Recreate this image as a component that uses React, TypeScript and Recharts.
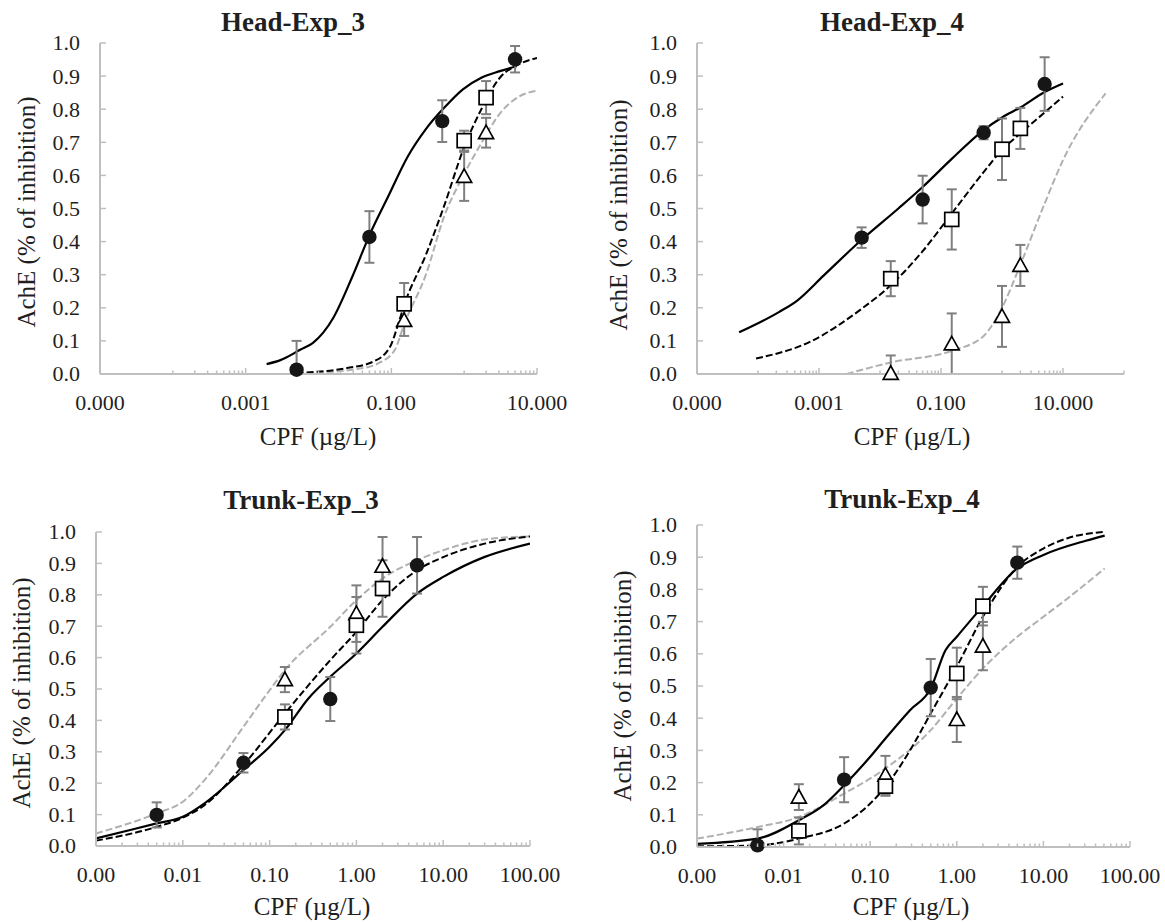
import React from 'react';
import { ComposedChart, Line, Scatter, XAxis, YAxis, ErrorBar } from 'recharts';

const FONT = '"Liberation Serif", "Times New Roman", serif';
const AXIS = '#BFBFBF';
const ERR = '#7F7F7F';
const GRAY = '#B0B0B0';
const INK = '#1F1F1F';

// ---------- Head-Exp_3 ----------
const h3CircleX = [0.005, 0.05, 0.5, 5];
const h3CircleY = [0.013, 0.414, 0.764, 0.951];
const h3CircleErr = [0.087, 0.078, 0.063, 0.04];
const h3OpenX = [0.15, 1, 2];
const h3SquareY = [0.212, 0.705, 0.835];
const h3SquareErr = [0.063, 0.03, 0.05];
const h3TriY = [0.162, 0.597, 0.729];
const h3TriErr = [0.047, 0.074, 0.045];
const h3SolidX = [0.00194, 0.003, 0.0056, 0.0084, 0.016, 0.0286, 0.0514, 0.0922, 0.166, 0.298, 0.535, 0.96, 1.72, 3.09, 5.24];
const h3SolidY = [0.03, 0.042, 0.073, 0.094, 0.17, 0.29, 0.425, 0.54, 0.655, 0.74, 0.805, 0.86, 0.895, 0.915, 0.93];
const h3DashX = [0.005, 0.0247, 0.056, 0.096, 0.124, 0.151, 0.298, 0.535, 0.96, 1.72, 3.09, 5.56, 10];
const h3DashY = [0.003, 0.018, 0.037, 0.082, 0.15, 0.21, 0.36, 0.51, 0.675, 0.8, 0.895, 0.935, 0.955];
const h3GrayX = [0.0069, 0.034, 0.07, 0.113, 0.15, 0.298, 0.535, 0.96, 1.72, 3.09, 5.56, 10];
const h3GrayY = [0.003, 0.015, 0.035, 0.075, 0.15, 0.3, 0.478, 0.597, 0.697, 0.787, 0.837, 0.856];

// ---------- Head-Exp_4 ----------
const h4CircleX = [0.005, 0.05, 0.5, 5];
const h4CircleY = [0.412, 0.527, 0.729, 0.876];
const h4CircleErr = [0.031, 0.072, 0.02, 0.081];
const h4OpenX = [0.015, 0.15, 1, 2];
const h4SquareY = [0.288, 0.467, 0.679, 0.742];
const h4SquareErr = [0.053, 0.091, 0.093, 0.062];
const h4TriY = [0.002, 0.091, 0.174, 0.328];
const h4TriErr = [0.054, 0.092, 0.092, 0.062];
const h4SolidX = [4.9e-5, 2.2e-4, 4.4e-4, 1.2e-3, 0.0049, 0.02, 0.05, 0.15, 0.5, 1, 2, 5, 10];
const h4SolidY = [0.126, 0.187, 0.222, 0.298, 0.404, 0.5, 0.565, 0.65, 0.737, 0.775, 0.805, 0.852, 0.878];
const h4DashX = [9.3e-5, 6.7e-4, 0.005, 0.015, 0.05, 0.15, 0.5, 1, 2, 5, 10];
const h4DashY = [0.047, 0.095, 0.197, 0.268, 0.371, 0.485, 0.61, 0.677, 0.727, 0.79, 0.838];
const h4GrayX = [0.00284, 0.015, 0.15, 0.5, 1, 2, 5, 10, 50];
const h4GrayY = [0.0, 0.035, 0.07, 0.115, 0.2, 0.33, 0.515, 0.646, 0.848];

// ---------- Trunk-Exp_3 ----------
const t3CircleX = [0.005, 0.05, 0.5, 5];
const t3CircleY = [0.099, 0.265, 0.468, 0.894];
const t3CircleErr = [0.04, 0.031, 0.07, 0.09];
const t3OpenX = [0.15, 1, 2];
const t3SquareY = [0.411, 0.703, 0.82];
const t3SquareErr = [0.04, 0.09, 0.09];
const t3TriY = [0.53, 0.74, 0.891];
const t3TriErr = [0.04, 0.09, 0.093];
const t3SolidX = [0.001, 0.00248, 0.005, 0.01, 0.0178, 0.05, 0.1, 0.15, 0.28, 0.5, 1, 2, 5, 10, 29.6, 100];
const t3SolidY = [0.024, 0.051, 0.072, 0.093, 0.136, 0.242, 0.316, 0.369, 0.47, 0.539, 0.613, 0.698, 0.804, 0.857, 0.92, 0.963];
const t3DashX = [0.001, 0.005, 0.01, 0.0178, 0.05, 0.15, 0.5, 1, 2, 5, 10, 30, 100];
const t3DashY = [0.017, 0.061, 0.09, 0.13, 0.258, 0.422, 0.592, 0.682, 0.783, 0.878, 0.92, 0.963, 0.986];
const t3GrayX = [0.001, 0.005, 0.01, 0.0178, 0.05, 0.1, 0.15, 0.5, 1, 2, 5, 10, 30, 100];
const t3GrayY = [0.04, 0.104, 0.141, 0.21, 0.38, 0.496, 0.56, 0.698, 0.783, 0.852, 0.91, 0.942, 0.976, 0.986];

// ---------- Trunk-Exp_4 ----------
const t4CircleX = [0.005, 0.05, 0.5, 5];
const t4CircleY = [0.005, 0.209, 0.495, 0.883];
const t4CircleErr = [0.05, 0.07, 0.089, 0.05];
const t4OpenX = [0.015, 0.15, 1, 2];
const t4SquareY = [0.05, 0.189, 0.539, 0.748];
const t4SquareErr = [0.042, 0.03, 0.08, 0.06];
const t4TriY = [0.155, 0.223, 0.396, 0.624];
const t4TriErr = [0.04, 0.06, 0.07, 0.075];
const t4SolidX = [0.001, 0.005, 0.015, 0.029, 0.05, 0.1, 0.15, 0.288, 0.5, 0.74, 1, 2, 5, 10, 30.8, 51];
const t4SolidY = [0.01, 0.026, 0.083, 0.13, 0.192, 0.28, 0.337, 0.425, 0.492, 0.611, 0.653, 0.748, 0.865, 0.907, 0.951, 0.967];
const t4DashX = [0.001, 0.005, 0.015, 0.05, 0.1, 0.15, 0.288, 0.5, 1, 2, 5, 10, 19, 51];
const t4DashY = [0.002, 0.005, 0.026, 0.073, 0.135, 0.187, 0.3, 0.415, 0.56, 0.715, 0.87, 0.927, 0.959, 0.979];
const t4GrayX = [0.001, 0.005, 0.015, 0.05, 0.15, 0.5, 1, 2, 5, 10, 19, 51];
const t4GrayY = [0.026, 0.062, 0.093, 0.166, 0.244, 0.363, 0.461, 0.554, 0.653, 0.715, 0.772, 0.865];

// ---------- axis ticks ----------
const yTicks = [0, 0.1, 0.2, 0.3, 0.4, 0.5, 0.6, 0.7, 0.8, 0.9, 1.0];
const headLabelTicks = [0.00001, 0.001, 0.1, 10];
const headMinorTicks = [
  0.0001, 0.0002, 0.0003, 0.0004, 0.0005, 0.0006, 0.0007, 0.0008, 0.0009,
  0.01, 0.02, 0.03, 0.04, 0.05, 0.06, 0.07, 0.08, 0.09,
  1, 2, 3, 4, 5, 6, 7, 8, 9,
];
const trunkLabelTicks = [0.001, 0.01, 0.1, 1, 10, 100];
const trunkMinorTicks = [
  0.002, 0.003, 0.004, 0.005, 0.006, 0.007, 0.008, 0.009,
  0.02, 0.03, 0.04, 0.05, 0.06, 0.07, 0.08, 0.09,
  0.2, 0.3, 0.4, 0.5, 0.6, 0.7, 0.8, 0.9,
  2, 3, 4, 5, 6, 7, 8, 9,
  20, 30, 40, 50, 60, 70, 80, 90,
];

const curve = (xs: number[], ys: number[]) => xs.map((x, i) => ({ x, y: ys[i] }));
// error bars are cut at the x axis, like the original plot
const marks = (xs: number[], ys: number[], errs: number[]) =>
  xs.map((x, i) => ({ x, y: ys[i], err: [Math.min(errs[i], ys[i]), errs[i]] }));

const Dot = (p: any) => <circle cx={p.cx} cy={p.cy} r={7.2} fill="#161616" />;
const Square = (p: any) => (
  <rect x={p.cx - 7} y={p.cy - 7} width={14} height={14} fill="#fff" stroke="#000" strokeWidth={1.7} />
);
const Triangle = (p: any) => (
  <polygon
    points={`${p.cx},${p.cy - 7.5} ${p.cx - 7.5},${p.cy + 6} ${p.cx + 7.5},${p.cy + 6}`}
    fill="#fff"
    stroke="#000"
    strokeWidth={1.7}
    strokeLinejoin="miter"
  />
);

const isOneOf = (v: number, list: number[]) => list.some((m) => Math.abs(m - v) <= m * 1e-6);

const makeXTick = (labels: number[], decimals: number) => (props: any) => {
  const { x, y, payload } = props;
  const v = payload.value as number;
  const labelled = isOneOf(v, labels);
  return (
    <g>
      <line x1={x} x2={x} y1={y} y2={y - (labelled ? 6 : 3.5)} stroke={AXIS} strokeWidth={1.5} />
      {labelled && (
        <text x={x} y={y + 36} textAnchor="middle" fontFamily={FONT} fontSize={22} fill={INK}>
          {v.toFixed(decimals)}
        </text>
      )}
    </g>
  );
};

const YTick = (props: any) => {
  const { x, y, payload } = props;
  return (
    <g>
      <line x1={x} x2={x + 6} y1={y} y2={y} stroke={AXIS} strokeWidth={1.5} />
      <text x={x - 20} y={y} dy="0.34em" textAnchor="end" fontFamily={FONT} fontSize={22} fill={INK}>
        {(payload.value as number).toFixed(1)}
      </text>
    </g>
  );
};

interface PanelProps {
  left: number;
  top: number;
  width: number;
  height: number;
  yWidth: number;
  margin: { top: number; right: number; bottom: number; left: number };
  domain: [number, number];
  labelTicks: number[];
  minorTicks: number[];
  decimals: number;
  solid: { x: number; y: number }[];
  dashed: { x: number; y: number }[];
  gray: { x: number; y: number }[];
  circles: any[];
  squares: any[];
  triangles: any[];
}

function Panel(p: PanelProps) {
  const ticks = [...p.labelTicks, ...p.minorTicks].sort((a, b) => a - b);
  return (
    <div style={{ position: 'absolute', left: p.left, top: p.top }}>
      <ComposedChart width={p.width} height={p.height} margin={p.margin}>
        <XAxis
          dataKey="x"
          type="number"
          scale="log"
          domain={p.domain}
          allowDataOverflow
          ticks={ticks}
          interval={0}
          height={60}
          tickSize={0}
          tickMargin={0}
          tickLine={false}
          axisLine={{ stroke: AXIS, strokeWidth: 2 }}
          tick={makeXTick(p.labelTicks, p.decimals)}
        />
        <YAxis
          dataKey="y"
          type="number"
          domain={[0, 1]}
          ticks={yTicks}
          interval={0}
          width={p.yWidth}
          tickSize={0}
          tickMargin={0}
          tickLine={false}
          axisLine={{ stroke: AXIS, strokeWidth: 2 }}
          tick={YTick}
        />
        <Line data={p.gray} dataKey="y" type="monotone" stroke={GRAY} strokeWidth={2} strokeDasharray="7 3" dot={false} isAnimationActive={false} />
        <Line data={p.dashed} dataKey="y" type="monotone" stroke="#000" strokeWidth={2} strokeDasharray="7 3" dot={false} isAnimationActive={false} />
        <Line data={p.solid} dataKey="y" type="monotone" stroke="#000" strokeWidth={2.2} dot={false} isAnimationActive={false} />
        <Scatter data={p.triangles} dataKey="y" shape={Triangle} isAnimationActive={false}>
          <ErrorBar dataKey="err" direction="y" stroke={ERR} strokeWidth={2} width={5} />
        </Scatter>
        <Scatter data={p.squares} dataKey="y" shape={Square} isAnimationActive={false}>
          <ErrorBar dataKey="err" direction="y" stroke={ERR} strokeWidth={2} width={5} />
        </Scatter>
        <Scatter data={p.circles} dataKey="y" shape={Dot} isAnimationActive={false}>
          <ErrorBar dataKey="err" direction="y" stroke={ERR} strokeWidth={2} width={5} />
        </Scatter>
      </ComposedChart>
    </div>
  );
}

const titleStyle = { fontFamily: FONT, fontSize: 27, fontWeight: 700, fill: INK } as const;
const axisTitleStyle = { fontFamily: FONT, fontSize: 25, fill: INK } as const;

export default function App() {
  return (
    <div style={{ position: 'absolute', left: 0, top: 0, width: 1165, height: 922, background: '#fff' }}>
      <Panel
        left={0} top={0} width={580} height={460} yWidth={100}
        margin={{ top: 43, right: 43, bottom: 26, left: 0 }}
        domain={[0.00001, 10]} labelTicks={headLabelTicks} minorTicks={headMinorTicks} decimals={3}
        solid={curve(h3SolidX, h3SolidY)} dashed={curve(h3DashX, h3DashY)} gray={curve(h3GrayX, h3GrayY)}
        circles={marks(h3CircleX, h3CircleY, h3CircleErr)}
        squares={marks(h3OpenX, h3SquareY, h3SquareErr)}
        triangles={marks(h3OpenX, h3TriY, h3TriErr)}
      />
      <Panel
        left={580} top={0} width={585} height={460} yWidth={117}
        margin={{ top: 43, right: 41, bottom: 26, left: 0 }}
        domain={[0.00001, 100]} labelTicks={headLabelTicks} minorTicks={[...headMinorTicks, 100]} decimals={3}
        solid={curve(h4SolidX, h4SolidY)} dashed={curve(h4DashX, h4DashY)} gray={curve(h4GrayX, h4GrayY)}
        circles={marks(h4CircleX, h4CircleY, h4CircleErr)}
        squares={marks(h4OpenX, h4SquareY, h4SquareErr)}
        triangles={marks(h4OpenX, h4TriY, h4TriErr)}
      />
      <Panel
        left={0} top={460} width={580} height={462} yWidth={96}
        margin={{ top: 72, right: 50, bottom: 16, left: 0 }}
        domain={[0.001, 100]} labelTicks={trunkLabelTicks} minorTicks={trunkMinorTicks} decimals={2}
        solid={curve(t3SolidX, t3SolidY)} dashed={curve(t3DashX, t3DashY)} gray={curve(t3GrayX, t3GrayY)}
        circles={marks(t3CircleX, t3CircleY, t3CircleErr)}
        squares={marks(t3OpenX, t3SquareY, t3SquareErr)}
        triangles={marks(t3OpenX, t3TriY, t3TriErr)}
      />
      <Panel
        left={580} top={460} width={585} height={462} yWidth={117}
        margin={{ top: 65, right: 35, bottom: 15, left: 0 }}
        domain={[0.001, 100]} labelTicks={trunkLabelTicks} minorTicks={trunkMinorTicks} decimals={2}
        solid={curve(t4SolidX, t4SolidY)} dashed={curve(t4DashX, t4DashY)} gray={curve(t4GrayX, t4GrayY)}
        circles={marks(t4CircleX, t4CircleY, t4CircleErr)}
        squares={marks(t4OpenX, t4SquareY, t4SquareErr)}
        triangles={marks(t4OpenX, t4TriY, t4TriErr)}
      />

      {/* titles and axis titles */}
      <svg width={1165} height={922} style={{ position: 'absolute', left: 0, top: 0, pointerEvents: 'none' }}>
        <text x={293} y={31} textAnchor="middle" style={titleStyle}>Head-Exp_3</text>
        <text x={892} y={31} textAnchor="middle" style={titleStyle}>Head-Exp_4</text>
        <text x={301} y={509} textAnchor="middle" style={titleStyle}>Trunk-Exp_3</text>
        <text x={902} y={508} textAnchor="middle" style={titleStyle}>Trunk-Exp_4</text>

        <text x={26} y={212} transform="rotate(-90 26 212)" textAnchor="middle" dominantBaseline="central" style={axisTitleStyle}>AchE (% of inhibition)</text>
        <text x={618} y={215} transform="rotate(-90 618 215)" textAnchor="middle" dominantBaseline="central" style={axisTitleStyle}>AchE (% of inhibition)</text>
        <text x={21} y={693} transform="rotate(-90 21 693)" textAnchor="middle" dominantBaseline="central" style={axisTitleStyle}>AchE (% of inhibition)</text>
        <text x={622} y={686} transform="rotate(-90 622 686)" textAnchor="middle" dominantBaseline="central" style={axisTitleStyle}>AchE (% of inhibition)</text>

        <text x={318} y={436} textAnchor="middle" dominantBaseline="central" style={axisTitleStyle}>CPF (µg/L)</text>
        <text x={912} y={436} textAnchor="middle" dominantBaseline="central" style={axisTitleStyle}>CPF (µg/L)</text>
        <text x={312} y={906} textAnchor="middle" dominantBaseline="central" style={axisTitleStyle}>CPF (µg/L)</text>
        <text x={911} y={906} textAnchor="middle" dominantBaseline="central" style={axisTitleStyle}>CPF (µg/L)</text>
      </svg>
    </div>
  );
}
